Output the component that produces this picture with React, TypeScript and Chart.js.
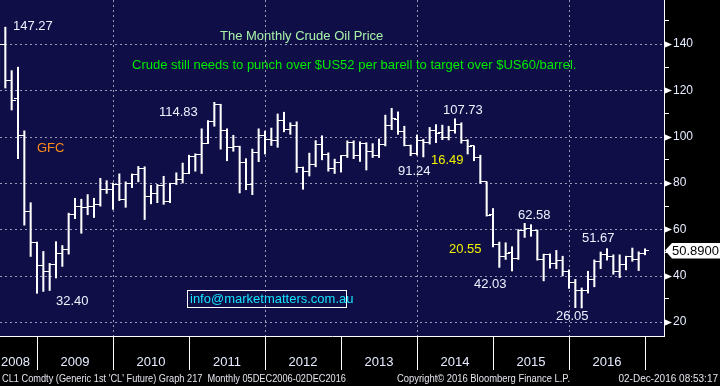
import { useEffect, useRef } from "react";
import { Chart, registerables } from "chart.js";
Chart.register(...registerables);

// Monthly bars, Jun 2008 .. Dec 2016 (CL1 generic 1st crude oil future)
const firstYear = 2008;
const firstMonth = 6; // June
const opens = [
  127.8, 140.0, 124.1, 116.5, 100.6, 67.8, 54.4,
  44.6, 41.7, 44.8, 49.7, 51.1, 66.3, 69.9, 69.5, 70.0, 70.6, 77.0, 77.3,
  79.4, 72.9, 79.7, 83.8, 86.2, 74.0, 75.6, 79.0, 71.9, 80.0, 81.4, 84.1,
  91.4, 92.2, 97.0, 106.7, 113.9, 102.7, 95.4, 95.7, 88.8, 79.2, 93.2, 100.4,
  98.8, 98.5, 107.1, 103.0, 104.9, 86.5, 85.0, 88.1, 96.5, 92.2, 86.2, 88.9,
  91.8, 97.5, 92.0, 97.2, 93.5, 92.0, 96.6, 105.0, 107.6, 102.3, 96.4, 92.7,
  98.4, 97.5, 102.6, 101.6, 99.7, 102.7, 105.4, 98.2, 96.0, 91.2, 80.5, 66.2,
  53.3, 48.2, 49.8, 47.6, 59.6, 60.3, 59.5, 47.1, 49.2, 45.1, 46.6, 41.6,
  37.0, 33.6, 33.8, 38.3, 45.9, 49.1, 48.3, 41.6, 44.7, 48.2, 46.9, 49.4,
];
const highs = [
  143.0, 147.27, 128.5, 130.0, 102.5, 71.5, 54.5,
  50.47, 45.3, 54.66, 53.0, 67.0, 73.4, 73.0, 75.0, 73.4, 82.0, 81.0, 80.0,
  83.95, 80.5, 83.9, 87.15, 87.0, 79.0, 79.4, 82.9, 79.9, 84.4, 88.6, 92.0,
  92.6, 103.4, 106.95, 114.83, 114.0, 103.4, 100.6, 95.9, 90.5, 94.65, 103.4, 102.4,
  103.7, 109.8, 110.55, 106.0, 106.4, 86.9, 92.9, 98.3, 100.4, 93.0, 90.3, 91.9,
  98.2, 98.2, 97.8, 97.4, 97.0, 99.0, 109.3, 112.24, 110.7, 104.5, 96.4, 100.75,
  98.9, 104.0, 105.2, 104.99, 104.5, 107.73, 106.0, 98.7, 96.0, 92.0, 80.5, 69.0,
  54.5, 54.2, 52.5, 59.9, 62.58, 62.0, 59.7, 49.3, 49.4, 50.9, 48.4, 42.5,
  38.4, 34.7, 41.9, 46.8, 50.2, 51.67, 49.0, 49.0, 48.4, 51.93, 50.3, 51.6,
];
const lows = [
  122.3, 121.0, 111.5, 90.5, 61.8, 48.3, 32.4,
  33.2, 33.6, 39.0, 44.0, 49.3, 64.6, 58.3, 66.3, 65.1, 70.0, 75.5, 68.6,
  72.4, 69.5, 78.0, 80.5, 64.24, 71.0, 71.5, 70.8, 71.5, 79.3, 80.0, 84.0,
  85.1, 84.1, 97.0, 104.5, 94.6, 89.6, 93.7, 75.7, 77.1, 74.95, 89.2, 92.5,
  96.2, 95.4, 102.1, 101.0, 84.6, 77.3, 83.0, 87.0, 90.0, 85.1, 84.1, 84.7,
  91.0, 90.5, 89.3, 85.6, 91.0, 91.0, 96.0, 103.0, 101.0, 96.0, 91.77, 92.1,
  91.24, 96.8, 97.4, 98.7, 98.6, 101.5, 97.2, 92.5, 89.6, 79.8, 65.7, 52.4,
  43.58, 47.0, 42.03, 47.0, 56.5, 57.0, 46.7, 37.75, 43.2, 43.0, 39.9, 34.5,
  26.19, 26.05, 32.5, 35.2, 43.0, 46.7, 40.6, 39.2, 42.5, 46.2, 42.2, 49.0,
];
const closes = [
  140.0, 124.08, 115.46, 100.64, 67.81, 54.43, 44.6,
  41.68, 44.76, 49.66, 51.12, 66.31, 69.89, 69.45, 69.96, 70.61, 77.0, 77.28, 79.36,
  72.89, 79.66, 83.76, 86.15, 73.97, 75.63, 78.95, 71.92, 79.97, 81.43, 84.11, 91.38,
  92.19, 96.97, 106.72, 113.93, 102.7, 95.42, 95.7, 88.81, 79.2, 93.19, 100.36, 98.83,
  98.48, 107.07, 103.02, 104.87, 86.53, 84.96, 88.06, 96.47, 92.19, 86.24, 88.91, 91.82,
  97.49, 92.05, 97.23, 93.46, 91.97, 96.56, 105.03, 107.65, 102.33, 96.38, 92.72, 98.42,
  97.49, 102.59, 101.58, 99.74, 102.71, 105.37, 98.17, 95.96, 91.16, 80.54, 66.15, 53.27,
  48.24, 49.76, 47.6, 59.63, 60.3, 59.47, 47.12, 49.2, 45.09, 46.59, 41.65, 37.04,
  33.62, 33.75, 38.34, 45.92, 49.1, 48.33, 41.6, 44.7, 48.24, 46.86, 49.44, 50.89,
];
const yearLabels = ["2008", "2009", "2010", "2011", "2012", "2013", "2014", "2015", "2016"];
const yTicks = [20, 30, 40, 50, 60, 70, 80, 90, 100, 110, 120, 130, 140, 150];
const yearBounds = [12, 24, 36, 48, 60, 72, 84, 96, 108];
const dashedX = [24, 48, 72, 96];
const lastPrice = "50.8900";

// bar position: end of month, in months since 1 Jan 2008
const positions = opens.map((_, i) => (firstYear - 2008) * 12 + firstMonth + i);

const FONT = '"Liberation Sans", Arial, sans-serif';
const NAVY = "#0f0e47";
const GRID = "#9a9ab4";

const annotations = [
  { t: "The Monthly Crude Oil Price", x: 220, y: 36, c: "#a8f2a8" },
  { t: "Crude still needs to punch over $US52 per barell to target over $US60/barrel.", x: 132, y: 65, c: "#00ec00" },
  { t: "147.27", x: 13, y: 26, c: "#eef2ff" },
  { t: "GFC", x: 37, y: 148, c: "#ff8c1a" },
  { t: "114.83", x: 159, y: 112, c: "#eef2ff" },
  { t: "32.40", x: 56, y: 301, c: "#eef2ff" },
  { t: "91.24", x: 398, y: 171, c: "#eef2ff" },
  { t: "16.49", x: 431, y: 160, c: "#f2f200" },
  { t: "107.73", x: 443, y: 110, c: "#eef2ff" },
  { t: "62.58", x: 518, y: 215, c: "#eef2ff" },
  { t: "20.55", x: 449, y: 249, c: "#f2f200" },
  { t: "42.03", x: 474, y: 284, c: "#eef2ff" },
  { t: "51.67", x: 582, y: 238, c: "#eef2ff" },
  { t: "26.05", x: 556, y: 316, c: "#eef2ff" },
];

function makeTick(side: "left" | "right") {
  const c = document.createElement("canvas");
  c.width = 8;
  c.height = 1;
  const g = c.getContext("2d")!;
  g.fillStyle = "#ffffff";
  if (side === "left") g.fillRect(0, 0, 4, 1);
  else g.fillRect(4, 0, 4, 1);
  return c;
}

const zeroPad = (s: any) => {
  s.paddingTop = 0;
  s.paddingBottom = 0;
  s.paddingLeft = 0;
  s.paddingRight = 0;
};

export default function App() {
  const ref = useRef<HTMLCanvasElement | null>(null);

  useEffect(() => {
    document.body.style.margin = "0";
    document.body.style.background = "#000";
    const canvas = ref.current!;
    const openTick = makeTick("left");
    const closeTick = makeTick("right");

    const decor = {
      id: "decor",
      beforeDraw(chart: any) {
        const { ctx, chartArea: a } = chart;
        ctx.save();
        ctx.fillStyle = "#000";
        ctx.fillRect(0, 0, chart.width, chart.height);
        ctx.fillStyle = NAVY;
        ctx.fillRect(a.left, a.top, a.right - a.left, a.bottom - a.top);
        ctx.restore();
      },
      beforeDatasetsDraw(chart: any) {
        const { ctx, chartArea: a, scales } = chart;
        ctx.save();
        ctx.strokeStyle = GRID;
        ctx.lineWidth = 1;
        ctx.setLineDash([2, 3]);
        yTicks.filter((v) => v % 20 === 0).forEach((v) => {
          const y = Math.round(scales.y.getPixelForValue(v)) + 0.5;
          ctx.beginPath();
          ctx.moveTo(a.left, y);
          ctx.lineTo(a.right, y);
          ctx.stroke();
        });
        dashedX.forEach((v) => {
          const x = Math.round(scales.x.getPixelForValue(v)) + 0.5;
          ctx.beginPath();
          ctx.moveTo(x, a.top);
          ctx.lineTo(x, a.bottom);
          ctx.stroke();
        });
        ctx.restore();
        ctx.imageSmoothingEnabled = false;
      },
      afterDraw(chart: any) {
        const { ctx, chartArea: a, scales } = chart;
        const xs = scales.x;
        const ys = scales.y;
        ctx.save();
        ctx.imageSmoothingEnabled = true;
        // major tick triangles
        ctx.fillStyle = "#ffffff";
        yTicks.filter((v) => v % 20 === 0).forEach((v) => {
          const y = Math.round(ys.getPixelForValue(v)) + 0.5;
          ctx.beginPath();
          ctx.moveTo(a.right, y - 3.5);
          ctx.lineTo(a.right + 8, y);
          ctx.lineTo(a.right, y + 3.5);
          ctx.closePath();
          ctx.fill();
        });
        // year labels
        ctx.font = `13px ${FONT}`;
        ctx.fillStyle = "#e6ecff";
        ctx.textBaseline = "middle";
        ctx.textAlign = "center";
        yearLabels.forEach((lab, i) => {
          const mid = xs.getPixelForValue(i * 12 + 6);
          const w = ctx.measureText(lab).width;
          const x = Math.max(mid, w / 2 + 1);
          ctx.fillText(lab, x, 362);
        });
        // annotations
        ctx.textAlign = "left";
        annotations.forEach((n) => {
          ctx.fillStyle = n.c;
          ctx.fillText(n.t, n.x, n.y);
        });
        // info box
        ctx.strokeStyle = "#ffffff";
        ctx.lineWidth = 1;
        ctx.strokeRect(187.5, 290.5, 159, 17);
        ctx.fillStyle = "#14e4ff";
        ctx.fillText("info@marketmatters.com.au", 190, 299.5);
        // last price tag
        const py = ys.getPixelForValue(closes[closes.length - 1]);
        ctx.fillStyle = "#ffffff";
        ctx.beginPath();
        ctx.moveTo(a.right + 1, py);
        ctx.lineTo(a.right + 8, py - 7.5);
        ctx.lineTo(720, py - 7.5);
        ctx.lineTo(720, py + 8);
        ctx.lineTo(a.right + 8, py + 8);
        ctx.closePath();
        ctx.fill();
        ctx.fillStyle = "#000000";
        ctx.font = `13px ${FONT}`;
        ctx.fillText(lastPrice, 672, py + 0.5);
        // footer
        ctx.font = `10px ${FONT}`;
        ctx.fillStyle = "#e4e4ee";
        ctx.fillText("CL1 Comdty (Generic 1st 'CL' Future) Graph 217  Monthly 05DEC2006-02DEC2016", 2, 379, 344);
        ctx.fillText("Copyright\u00A9 2016 Bloomberg Finance L.P.", 397, 379, 173);
        ctx.textAlign = "right";
        ctx.fillText("02-Dec-2016 08:53:17", 718, 379);
        ctx.restore();
      },
    };

    const chart = new Chart(canvas, {
      type: "bar",
      data: {
        datasets: [
          {
            type: "bar",
            data: positions.map((x, i) => ({ x, y: [lows[i], highs[i]] })) as any,
            backgroundColor: "#ffffff",
            borderWidth: 0,
            barThickness: 1.4,
            grouped: false,
          } as any,
          {
            type: "scatter",
            data: positions.map((x, i) => ({ x, y: opens[i] })),
            pointStyle: openTick as any,
            pointRadius: 4,
          },
          {
            type: "scatter",
            data: positions.map((x, i) => ({ x, y: closes[i] })),
            pointStyle: closeTick as any,
            pointRadius: 4,
          },
        ],
      },
      options: {
        animation: false,
        responsive: false,
        maintainAspectRatio: false,
        events: [],
        layout: { padding: 0, autoPadding: false },
        plugins: { legend: { display: false }, tooltip: { enabled: false } },
        scales: {
          x: {
            type: "linear",
            min: 12 - 37 / (76 / 12),
            max: 12 + (664 - 37) / (76 / 12),
            offset: false,
            afterBuildTicks: (s: any) => {
              s.ticks = yearBounds.map((v) => ({ value: v }));
            },
            afterFit: (s: any) => {
              s.height = 50;
              zeroPad(s);
            },
            ticks: { display: false },
            grid: {
              offset: false,
              drawOnChartArea: false,
              drawTicks: true,
              tickLength: 34,
              tickColor: "#ffffff",
              tickWidth: 1,
            },
            border: { display: true, color: "#ffffff", width: 1 },
          },
          y: {
            type: "linear",
            position: "right",
            min: 20 - 14 / (278 / 120),
            max: 140 + 44 / (278 / 120),
            beginAtZero: false,
            afterBuildTicks: (s: any) => {
              s.ticks = yTicks.map((v) => ({ value: v }));
            },
            afterFit: (s: any) => {
              s.width = 56;
              zeroPad(s);
            },
            ticks: {
              color: "#e6ecff",
              font: { family: FONT, size: 12 },
              padding: 4,
              callback: (v: any) => (Number(v) % 20 === 0 ? String(v) : ""),
            },
            grid: {
              drawOnChartArea: false,
              tickLength: 5,
              tickColor: (c: any) => (c.tick && c.tick.value % 20 === 0 ? "rgba(0,0,0,0)" : "#ffffff"),
              tickWidth: 1,
            },
            border: { display: true, color: "#ffffff", width: 1 },
          },
        },
      },
      plugins: [decor],
    });
    return () => chart.destroy();
  }, []);

  return (
    <div style={{ width: 720, height: 386, background: "#000" }}>
      <canvas ref={ref} width={720} height={386} style={{ display: "block", width: 720, height: 386 }} />
    </div>
  );
}
